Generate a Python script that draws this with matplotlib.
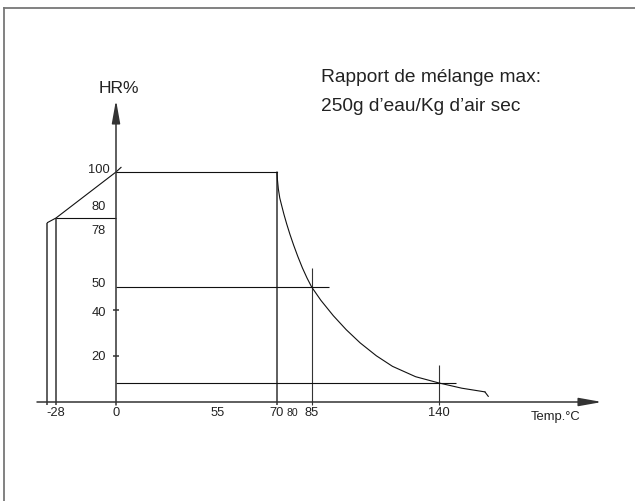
import numpy as np
import matplotlib
matplotlib.use("Agg")
import matplotlib.pyplot as plt
from matplotlib.lines import Line2D

plt.rcParams['font.family'] = ['Liberation Sans', 'DejaVu Sans']

# ---------------- data ----------------
# x tick labels (temperature, deg C)
x_ticks = [-28, 0, 55, 70, 85, 140]
x_tick_labels = ["-28", "0", "55", "70", "85", "140"]
x_minor_label_val = 80
# y tick labels (HR %)
y_ticks = [100, 80, 78, 50, 40, 20]
y_tick_labels = ["100", "80", "78", "50", "40", "20"]
y_tick_marks = [20, 40]

# left ramp (cold side)
ramp_T = [-32, -28, 0, 2.7]
ramp_HR = [78, 80, 100, 102]
# plateau at 100 %
plateau_T = [0, 70]
plateau_HR = [100, 100]
# saturation-limited curve (250 g water / kg dry air)
curve_T = [70, 70.2, 70.6, 71.2, 72.0, 73.0, 74.2, 75.6, 77.2, 79.0, 81.0,
           83.0, 85.0, 89.0, 94.4, 100.0, 106.0, 113.0, 120.0, 130.0,
           140.0, 150.0, 160.0]
curve_HR = [100, 96.5, 92.5, 88.7, 85.5, 81.6, 77.4, 72.9, 68.2, 63.3, 58.3,
            53.9, 50.0, 44.2, 37.5, 31.4, 25.7, 20.1, 15.5, 11.0,
            8.3, 6.0, 4.4]

# reference construction lines
verticals_T = [-32, -28, 70, 85, 140]
verticals_top = [78, 80, 100, 58.3, 16.0]
horiz_HR = [80, 50, 8.3]
horiz_T0 = [-28, 0, 0]
horiz_T1 = [0, 92.6, 147.6]

title_lines = ["Rapport de mélange max:", "250g d\u2019eau/Kg d\u2019air sec"]
y_label = "HR%"
x_label = "Temp.°C"

# ---------------- schematic scale ----------------
TA = np.array([-1000, -28, 0, 55, 70, 1000], dtype=float)
PA = np.array([56 - 972 * 2.143, 56, 116, 218, 277, 277 + 930 * 2.31])


def fwd(t):
    return np.interp(t, TA, PA)


def inv(p):
    return np.interp(p, PA, TA)


W, H = 635, 501
fig = plt.figure(figsize=(W / 100, H / 100), dpi=100)
ax = fig.add_axes([0, 0, 1, 1])
ax.set_xscale('function', functions=(fwd, inv))
ax.set_xlim(inv(0), inv(W))
y0_px, px_per = 402, 2.3
ax.set_ylim(-(H - y0_px) / px_per, y0_px / px_per)
ax.axis('off')

# border (top and left only)
bcol = '#777777'
fig.add_artist(Line2D([4 / W, 1.01], [1 - 8 / H, 1 - 8 / H],
                      transform=fig.transFigure, color=bcol, lw=1.3))
fig.add_artist(Line2D([4 / W, 4 / W], [1 - 8 / H, -0.01],
                      transform=fig.transFigure, color=bcol, lw=1.3))

ax_col = '#333333'
ln_col = '#111111'
lw_ax = 1.1
lw = 0.8
below = -1.3

arrow = dict(arrowstyle='-|>,head_length=1.4,head_width=0.25',
             color=ax_col, lw=lw_ax, shrinkA=0, shrinkB=0, mutation_scale=10)
ax.annotate('', xy=(inv(602), 0), xytext=(inv(37), 0), arrowprops=arrow)
ax.annotate('', xy=(0, (y0_px - 100) / px_per), xytext=(0, below),
            arrowprops=arrow)

for t, top in zip(verticals_T, verticals_top):
    ax.plot([t, t], [below, top], color=ax_col,
            lw=lw_ax if t in (-32, -28, 70) else lw, solid_capstyle='butt')
for h, t0, t1 in zip(horiz_HR, horiz_T0, horiz_T1):
    ax.plot([t0, t1], [h, h], color=ln_col, lw=lw, solid_capstyle='butt')

ax.plot(ramp_T, ramp_HR, color=ln_col, lw=lw)
ax.plot(plateau_T, plateau_HR, color=ln_col, lw=lw)
ax.plot(curve_T, curve_HR, color=ln_col, lw=lw, solid_joinstyle='round')
# small open barb at the end of the curve
ax.annotate('', xy=(curve_T[-1] + 1.5, curve_HR[-1] - 2.0),
            xytext=(curve_T[-1], curve_HR[-1]),
            arrowprops=dict(arrowstyle='-', color=ln_col, lw=lw,
                            shrinkA=0, shrinkB=0))

ax.plot([0] * len(y_tick_marks), y_tick_marks, ls='none', marker='_',
        ms=5, mew=lw_ax, color=ax_col)

fs = 9.3
tick_col = '#222222'
for v, lab in zip(x_ticks, x_tick_labels):
    ax.annotate(lab, xy=(v, 0), xytext=(0, -11), textcoords='offset pixels',
                ha='center', va='center', fontsize=fs, color=tick_col)
ax.annotate("80", xy=(x_minor_label_val - 3.2, 0), xytext=(0, -11),
            textcoords='offset pixels', ha='center', va='center',
            fontsize=7.6, color=tick_col)

y_offsets_px = {100: 2, 80: 11, 78: -8.5, 50: 3, 40: -3, 20: -1}
for v, lab in zip(y_ticks, y_tick_labels):
    ax.annotate(lab, xy=(0, v), xytext=(-17, y_offsets_px[v]),
                textcoords='offset pixels', ha='center', va='center',
                fontsize=fs, color=tick_col)

ax.annotate(x_label, xy=(inv(556), 0), xytext=(0, -15),
            textcoords='offset pixels', ha='center', va='center',
            fontsize=9.4, color=tick_col)

fig.text(119 / W, 1 - 93 / H, y_label, ha='center', va='baseline',
         fontsize=12.6, color=tick_col)
fig.text(321 / W, 1 - 82 / H, title_lines[0], ha='left', va='baseline',
         fontsize=13.8, color=tick_col)
fig.text(321 / W, 1 - 111 / H, title_lines[1], ha='left', va='baseline',
         fontsize=13.8, color=tick_col)

fig.savefig('out.png', dpi=100, facecolor='white')
